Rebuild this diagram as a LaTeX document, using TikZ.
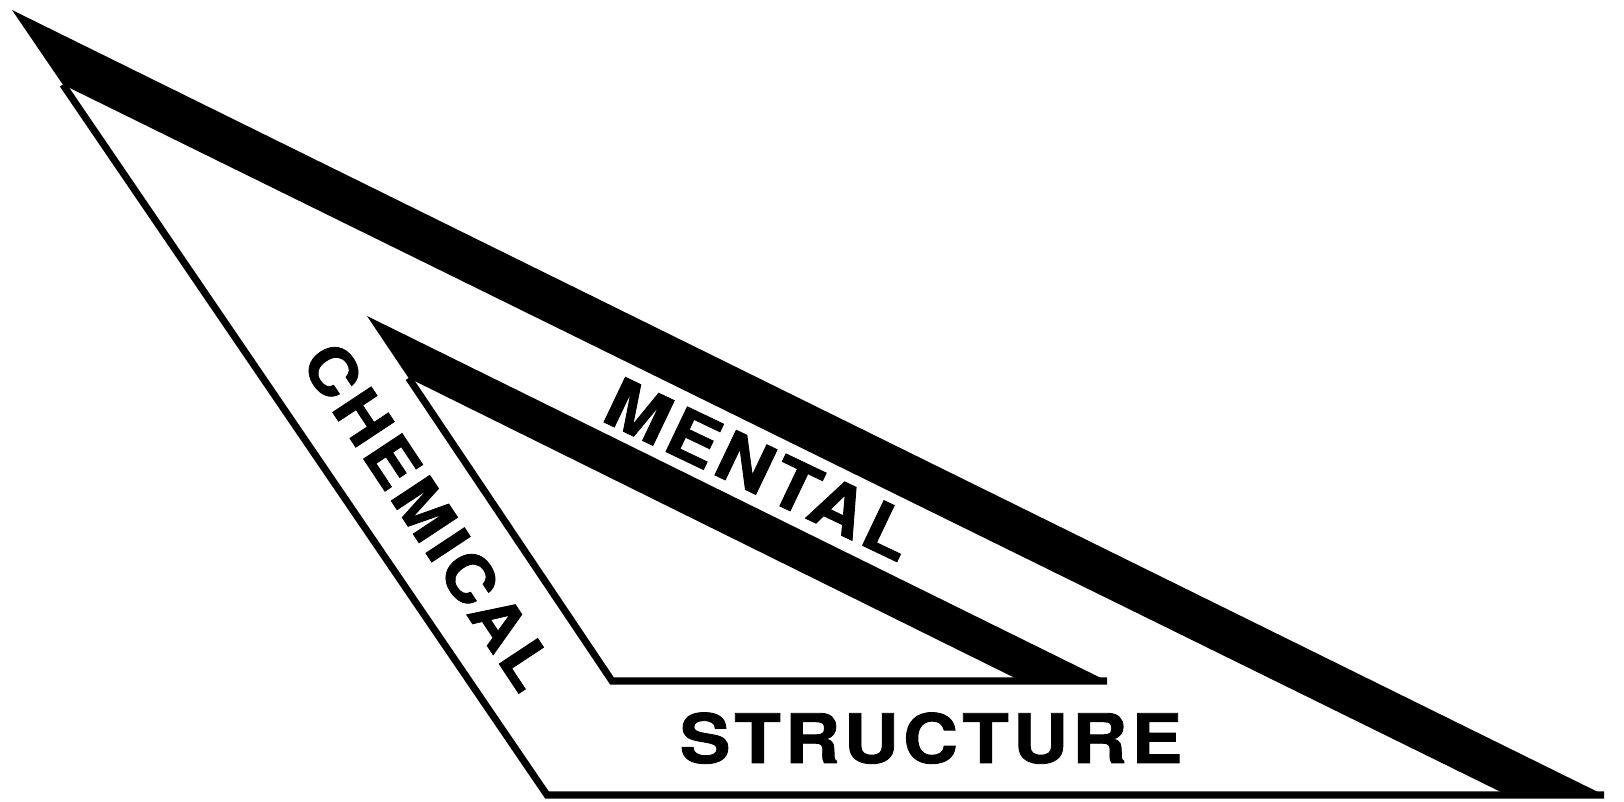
\documentclass[tikz,border=0pt]{standalone}
\usepackage{fontspec}
\newfontfamily\trifont[LetterSpace=6, FakeStretch=1.12, FakeBold=1.2]{TeX Gyre Heros}
\usetikzlibrary{calc}
\tikzset{
  thinedge/.style={line width=2pt, draw=black, line join=miter},
  band/.style={fill=black},
  sidelabel/.style={font=\trifont\bfseries\fontsize{19.4}{20}\selectfont, inner sep=0pt}
}

\begin{document}
\begin{tikzpicture}
  \useasboundingbox (0,0) rectangle (16.24,8.02);
  % outer triangle
  \coordinate (oa) at (0.12,7.92);
  \coordinate (ob) at (16.04,0.07);
  \coordinate (oc) at (5.47,0.07);
  \coordinate (od) at ($(oa)!0.095!(oc)$);
  \coordinate (oe) at (15.07,0.07);
  % inner triangle
  \coordinate (ia) at (3.67,4.86);
  \coordinate (ib) at (11.07,1.21);
  \coordinate (ic) at (6.12,1.21);
  \coordinate (id) at ($(ia)!0.17!(ic)$);
  \coordinate (ie) at (10.21,1.21);

  \draw[thinedge] (od) -- (oc) -- (ob);
  \fill[band] (oa) -- (ob) -- (oe) -- (od) -- cycle;
  \draw[thinedge] (id) -- (ic) -- (ib);
  \fill[band] (ia) -- (ib) -- (ie) -- (id) -- cycle;

  \node[sidelabel, rotate=-56.5, scale=0.93, transform shape] (chem) at (4.29,2.86) {CHEMICAL};
  \node[sidelabel, rotate=-25.5] (ment) at (7.60,3.33) {MENTAL};
  \node[sidelabel, anchor=base] (struc) at (9.31,0.39) {STRUCTURE};
\end{tikzpicture}
\end{document}
